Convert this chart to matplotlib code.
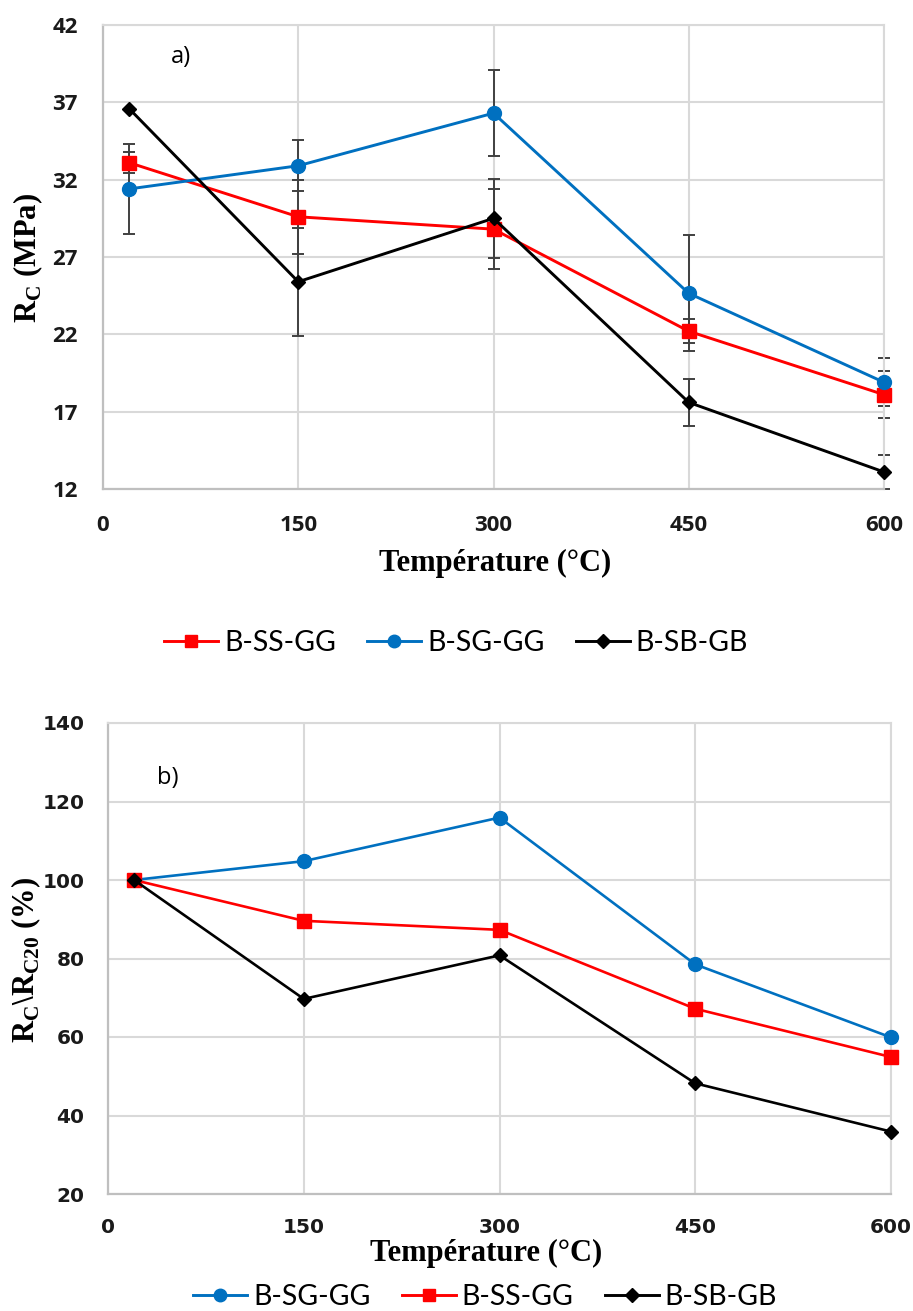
import matplotlib
matplotlib.use("Agg")
import matplotlib.pyplot as plt
from matplotlib.lines import Line2D

# ---------------- data ----------------
temps = [20, 150, 300, 450, 600]
xticks = [0, 150, 300, 450, 600]

# a) compressive strength (MPa)
rc_ss_gg = [33.1, 29.6, 28.8, 22.2, 18.1]
rc_sg_gg = [31.4, 32.9, 36.3, 24.65, 18.9]
rc_sb_gb = [36.6, 25.4, 29.5, 17.6, 13.1]
err_ss_gg = [0.7, 2.4, 2.6, 0.78, 1.5]
err_sg_gg = [2.9, 1.65, 2.8, 3.75, 1.55]
err_sb_gb = [0.0, 3.5, 2.56, 1.5, 1.1]
yticks_a = [12, 17, 22, 27, 32, 37, 42]

# b) relative strength (%)
rel_sg_gg = [100, 104.8, 115.9, 78.5, 59.9]
rel_ss_gg = [100, 89.6, 87.3, 67.2, 54.9]
rel_sb_gb = [100, 69.7, 80.8, 48.2, 35.9]
yticks_b = [20, 40, 60, 80, 100, 120, 140]

RED = "#FF0000"
BLUE = "#0070C0"
BLACK = "#000000"
GRID = "#D9D9D9"
SPINE = "#BFBFBF"
ERR = "#404040"

W, H = 913, 1311
fig = plt.figure(figsize=(W / 100, H / 100), dpi=100)


def px_ax(l, r, t, b):
    return [l / W, 1 - b / H, (r - l) / W, (b - t) / H]


def style_axes(ax, xt, yt, tickfont, tsize, ypad, xpad):
    ax.set_xlim(0, 600)
    ax.set_xticks(xt)
    ax.set_yticks(yt)
    ax.set_ylim(yt[0], yt[-1])
    ax.grid(True, color=GRID, linewidth=1.5, zorder=0)
    ax.set_axisbelow(True)
    for s in ["top", "right"]:
        ax.spines[s].set_color(GRID)
        ax.spines[s].set_linewidth(1.5)
    for s in ["left", "bottom"]:
        ax.spines[s].set_color(SPINE)
        ax.spines[s].set_linewidth(1.6)
    ax.tick_params(axis="both", length=0)
    ax.tick_params(axis="y", pad=ypad)
    ax.tick_params(axis="x", pad=xpad)
    for lab in ax.get_xticklabels() + ax.get_yticklabels():
        lab.set_fontfamily(tickfont)
        lab.set_fontweight("bold")
        lab.set_fontsize(tsize)
        lab.set_color("#1a1a1a")


# ---------------- chart a ----------------
ax1 = fig.add_axes(px_ax(103, 884, 25, 489))
lw = 2.1
for vals, errs in [(rc_ss_gg, err_ss_gg), (rc_sg_gg, err_sg_gg),
                   (rc_sb_gb, err_sb_gb)]:
    ax1.errorbar(temps, vals, yerr=errs, fmt="none", ecolor=ERR,
                 elinewidth=1.4, capsize=4.3, capthick=1.4, zorder=2)
ax1.plot(temps, rc_ss_gg, color=RED, lw=lw, marker="s", ms=10,
         label="B-SS-GG", zorder=3)
ax1.plot(temps, rc_sg_gg, color=BLUE, lw=lw, marker="o", ms=10,
         label="B-SG-GG", zorder=4)
ax1.plot(temps, rc_sb_gb, color=BLACK, lw=lw, marker="D", ms=7,
         label="B-SB-GB", zorder=5)
for ln in ax1.lines:
    ln.set_clip_on(False)
style_axes(ax1, xticks, yticks_a, "Open Sans", 16, 18, 19)
fig.text(181 / W, 1 - 57 / H, "a)", fontsize=17, family="Open Sans",
         ha="center", va="center")

fig.text(495 / W, 1 - 563 / H, "Température (°C)", family="Liberation Serif",
         fontweight="bold", fontsize=22, ha="center", va="center")
fig.text(28 / W, 1 - 258 / H, r"R$_\mathregular{C}$ (MPa)",
         family="Liberation Serif", fontweight="bold", fontsize=22,
         rotation=90, ha="center", va="center")

h_ss = Line2D([], [], color=RED, lw=lw, marker="s", ms=9)
h_sg = Line2D([], [], color=BLUE, lw=lw, marker="o", ms=9)
h_sb = Line2D([], [], color=BLACK, lw=lw, marker="D", ms=7)
leg_kw = dict(frameon=False, ncol=3, loc="center", handlelength=1.9,
              handletextpad=0.2, columnspacing=1.1,
              prop={"family": "Lato", "size": 20.5})
fig.legend([h_ss, h_sg, h_sb], ["B-SS-GG", "B-SG-GG", "B-SB-GB"],
           bbox_to_anchor=(456 / W, 1 - 643 / H), **leg_kw)

# ---------------- chart b ----------------
ax2 = fig.add_axes(px_ax(108, 891, 723, 1194))
lw2 = 1.9
ax2.plot(temps, rel_sg_gg, color=BLUE, lw=lw2, marker="o", ms=10,
         label="B-SG-GG", zorder=3)
ax2.plot(temps, rel_ss_gg, color=RED, lw=lw2, marker="s", ms=10,
         label="B-SS-GG", zorder=4)
ax2.plot(temps, rel_sb_gb, color=BLACK, lw=lw2, marker="D", ms=7,
         label="B-SB-GB", zorder=5)
for ln in ax2.lines:
    ln.set_clip_on(False)
style_axes(ax2, xticks, yticks_b, "DejaVu Sans", 14.5, 17, 17)
fig.text(168 / W, 1 - 778 / H, "b)", fontsize=17, family="Open Sans",
         ha="center", va="center")

fig.text(486 / W, 1 - 1253 / H, "Température (°C)", family="Liberation Serif",
         fontweight="bold", fontsize=22, ha="center", va="center")
fig.text(26 / W, 1 - 960 / H, r"R$_\mathregular{C}$\R$_\mathregular{C20}$ (%)",
         family="Liberation Serif", fontweight="bold", fontsize=22,
         rotation=90, ha="center", va="center")

fig.legend([h_sg, h_ss, h_sb], ["B-SG-GG", "B-SS-GG", "B-SB-GB"],
           bbox_to_anchor=(485 / W, 1 - 1297 / H), **leg_kw)

fig.savefig("out.png", dpi=100)
